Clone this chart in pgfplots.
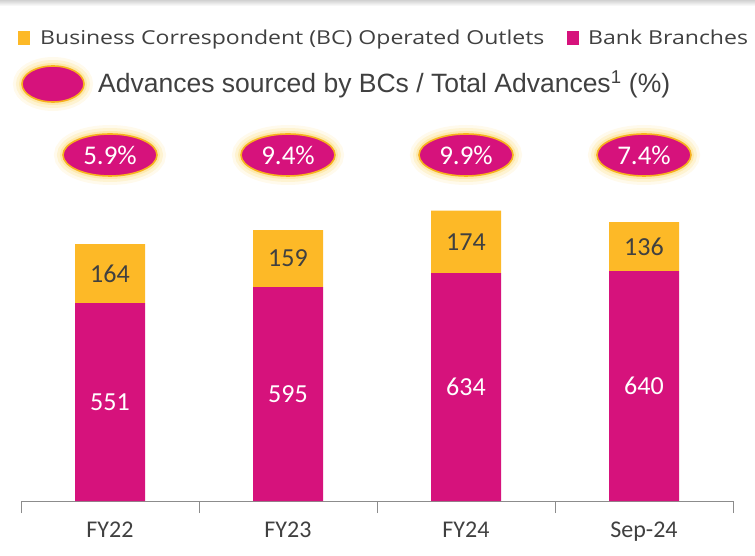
\documentclass[border=0pt]{standalone}
\usepackage{fontspec}
\setmainfont{Carlito}
\newfontfamily\arialf{Liberation Sans}
\newfontfamily\segoef[FakeStretch=1.2]{Open Sans}
\usepackage{pgfplots}
\usepackage{pgfplotstable}
\pgfplotsset{compat=1.18}
\pgfkeys{/pgf/number format/assume math mode=true}
\usetikzlibrary{shapes.geometric}

\definecolor{bbpink}{HTML}{D6127C}
\definecolor{bcyellow}{HTML}{FDB927}
\definecolor{ringor}{HTML}{F7B11E}
\definecolor{glow}{HTML}{FCDD80}
\definecolor{txt}{HTML}{404040}
\definecolor{axgray}{HTML}{8C8C8C}

% bank branches, BC outlets, share of advances (%)
\pgfplotstableread{
x bank bc share
0 551 164 5.9
1 595 159 9.4
2 634 174 9.9
3 640 136 7.4
}\datatable

\tikzset{
  pct/.style={ellipse, fill=bbpink, draw=ringor, line width=1.6pt, inner sep=0pt,
    minimum width=94pt, minimum height=42pt, text=white,
    preaction={draw=glow, line width=18pt, draw opacity=0.15},
    preaction={draw=glow, line width=12pt, draw opacity=0.25},
    preaction={draw=glow, line width=6pt, draw opacity=0.45}},
}
\pgfplotsset{
  overlay axis/.style={at={(0pt,0pt)}, anchor=south west, scale only axis,
    width=712pt, height=359.3pt,
    xmin=-0.5, xmax=3.5, ymin=0, ymax=1000},
}

\begin{document}
\begin{tikzpicture}
\path[use as bounding box] (-21pt,-54pt) rectangle (734pt,501pt);
\shade[top color=black!18, bottom color=white] (-21pt,495pt) rectangle (734pt,501pt);

\begin{axis}[
  overlay axis,
  ybar stacked, bar width=70pt,
  hide y axis, axis x line*=bottom,
  x axis line style={axgray, line width=1pt, -},
  xtick={0,1,2,3}, xticklabels={FY22,FY23,FY24,Sep-24},
  major tick length=0pt,
  minor xtick={-0.5,0.5,1.5,2.5,3.5},
  minor tick length=12pt, xtick align=outside,
  minor x tick style={axgray, line width=1pt},
  x tick label style={font=\fontsize{24}{28}\selectfont, text=txt, yshift=-17.5pt},
]
\addplot[fill=bbpink, draw=none] table[x=x, y=bank]{\datatable};
\addplot[fill=bcyellow, draw=none] table[x=x, y=bc]{\datatable};
\end{axis}

% segment values, centred in their segments
\begin{axis}[overlay axis, hide axis,
  nodes near coords style={anchor=center, font=\fontsize{26}{30}\selectfont}]
\addplot[draw=none, mark=none, point meta=explicit, nodes near coords,
  nodes near coords style={text=white}]
  table[x=x, y expr=\thisrow{bank}/2, meta=bank]{\datatable};
\addplot[draw=none, mark=none, point meta=explicit, nodes near coords,
  nodes near coords style={text=txt}]
  table[x=x, y expr=\thisrow{bank}+\thisrow{bc}/2, meta=bc]{\datatable};
\addplot[draw=none, mark=none, point meta=explicit,
  nodes near coords={\pgfmathprintnumber[fixed,fixed zerofill,precision=1]{\pgfplotspointmeta}\%},
  nodes near coords style={pct, font=\fontsize{27}{32}\selectfont}]
  table[x=x, y expr=963, meta=share]{\datatable};
\end{axis}

% legend
\fill[bcyellow] (-3pt,456pt) rectangle (9pt,470pt);
\node[anchor=base west, text=txt, font=\segoef\fontsize{19.2}{23}\selectfont, inner sep=0pt] at (19pt,456pt) {Business Correspondent (BC) Operated Outlets};
\fill[bbpink] (546pt,456pt) rectangle (558pt,470pt);
\node[anchor=base west, text=txt, font=\segoef\fontsize{19.2}{23}\selectfont, inner sep=0pt] at (567pt,456pt) {Bank Branches};
\node[pct, minimum width=62pt, minimum height=36pt] at (32pt,417pt) {};
\node[anchor=base west, text=txt, font=\arialf\fontsize{26.5}{31}\selectfont, inner sep=0pt] at (77pt,408pt) {Advances sourced by BCs / Total Advances\textsuperscript{1} (\%)};
\end{tikzpicture}
\end{document}
